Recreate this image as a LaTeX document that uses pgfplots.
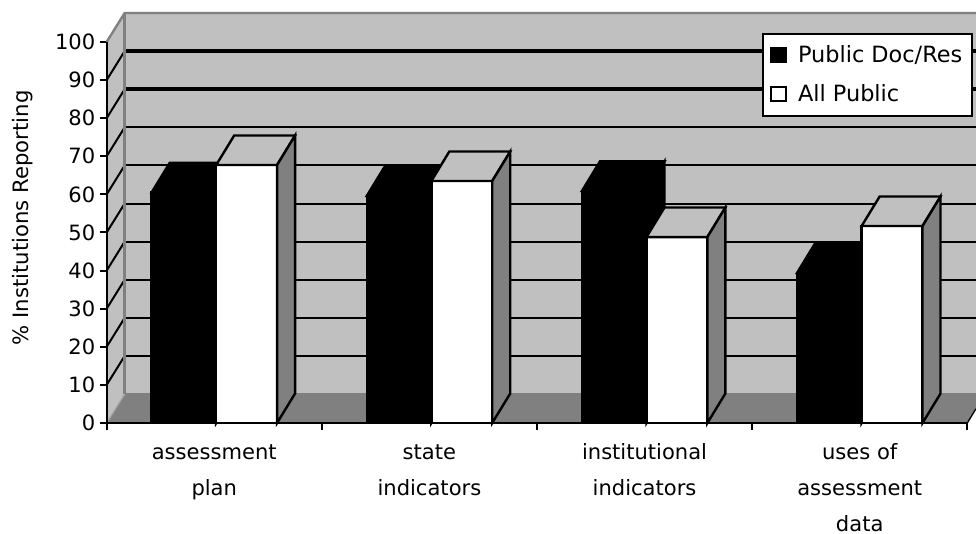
\documentclass[border=0pt]{standalone}
\usepackage{fontspec}
\setmainfont{DejaVu Sans}
\usepackage{pgfplots}
\pgfplotsset{compat=1.18}
\definecolor{wall}{HTML}{C0C0C0}
\definecolor{dgray}{HTML}{808080}
\begin{document}
\begin{tikzpicture}
\path[use as bounding box] (0pt,0pt) rectangle (732pt,399.75pt);
\begin{axis}[
  at={(80pt,82.5pt)}, anchor=origin,
  scale only axis, width=652pt, height=307.5pt,
  xmin=0, xmax=4.0405, ymin=0, ymax=107.6,
  clip=false,
  axis x line*=bottom, axis y line*=left,
  axis line style={draw=none},
  ytick={0,10,...,100},
  xtick={0,1,2,3,4},
  xticklabels={},
  extra x ticks={0.5,1.5,2.5,3.5},
  extra x tick labels={\strut assessment\\plan,\strut state\\indicators,\strut institutional\\indicators,\strut uses of\\assessment\\data},
  extra x tick style={major tick length=0pt,tick style={draw=none},
     xticklabel style={align=center,font=\fontsize{15.8}{27.2}\selectfont,yshift=-4.6pt}},
  x tick style={draw=black,line width=1.5pt},
  y tick style={draw=black,line width=1.5pt},
  tick align=outside, major tick length=5pt,
  yticklabel style={font=\fontsize{15.8}{18}\selectfont},
  /pgf/number format/assume math mode=true,
  ylabel={\% Institutions Reporting},
  ylabel style={font=\fontsize{15.9}{18}\selectfont,yshift=10pt},
  legend style={at={(axis cs:3.046,102.4)},anchor=north west,draw=black,line width=1.7pt,fill=white,
     font=\fontsize{16.8}{19}\selectfont,inner xsep=5.5pt,inner ysep=7pt,row sep=11pt},
  legend cell align=left,
]
% walls and floor
\addplot[fill=wall,draw=none,forget plot] coordinates {(0.0837,7.6)(4.0405,7.6)(4.0405,107.6)(0.0837,107.6)} -- cycle;
\addplot[fill=wall,draw=none,forget plot] coordinates {(0,0)(0.0837,7.6)(0.0837,107.6)(0,100)} -- cycle;
\addplot[fill=dgray,draw=none,forget plot] coordinates {(0,0)(4,0)(4.0405,3.76)(4.0405,7.6)(0.0837,7.6)} -- cycle;
% back grid
\foreach \v/\w in {17.6/1.5pt,27.6/1.5pt,37.6/1.5pt,47.6/1.5pt,57.6/1.5pt,67.6/1.5pt,77.6/1.5pt,87.6/2.6pt,97.6/2.6pt}{
  \edef\tmp{\noexpand\addplot[black,line width=\w,forget plot] coordinates {(0.0837,\v)(4.0405,\v)};}\tmp
}
% side wall grid
\foreach \v/\t in {10/17.6,20/27.6,30/37.6,40/47.6,50/57.6,60/67.6,70/77.6,80/87.6,90/97.6}{
  \edef\tmp{\noexpand\addplot[black,line width=1.5pt,forget plot] coordinates {(0,\v)(0.0837,\t)};}\tmp
}
% wall edges
\addplot[dgray,line width=1.8pt,forget plot] coordinates {(0,100)(0.0837,107.6)(4.0405,107.6)};
\addplot[dgray,line width=1.8pt,forget plot] coordinates {(0.0837,7.6)(0.0837,107.6)};
\addplot[dgray,line width=1pt,forget plot] coordinates {(0.0837,7.6)(4.0405,7.6)};
\addplot[dgray!70,line width=1pt,forget plot] coordinates {(0,0)(0.0837,7.6)};
\addplot[black,line width=1pt,forget plot] coordinates {(4,0)(4.0405,3.76)};
% axis lines
\addplot[black,line width=1.6pt,forget plot] coordinates {(0,0)(0,100)};
% Public Doc/Res
\addplot[ybar,bar width=48.4pt,bar shift=0pt,fill=black,draw=black,line width=1.8pt,
  legend image code/.code={\draw[fill=black,draw=black,line width=1.5pt] (0pt,-5pt) rectangle (11pt,5.5pt);\path (17pt,0pt);}]
  coordinates {(0.359,60.5)(1.359,59.6)(2.359,60.9)(3.359,39.4)};
\addlegendentry{Public Doc/Res}
\addplot[fill=black,draw=black,line width=1.8pt,forget plot] coordinates {(0.209,60.5)(0.509,60.5)(0.5927,68.25)(0.2927,68.25)} -- cycle;
\addplot[fill=black,draw=black,line width=1.8pt,forget plot] coordinates {(0.509,0)(0.5927,7.75)(0.5927,68.25)(0.509,60.5)} -- cycle;
\addplot[fill=black,draw=black,line width=1.8pt,forget plot] coordinates {(1.209,59.6)(1.509,59.6)(1.5927,67.35)(1.2927,67.35)} -- cycle;
\addplot[fill=black,draw=black,line width=1.8pt,forget plot] coordinates {(1.509,0)(1.5927,7.75)(1.5927,67.35)(1.509,59.6)} -- cycle;
\addplot[fill=black,draw=black,line width=1.8pt,forget plot] coordinates {(2.209,60.9)(2.509,60.9)(2.5927,68.65)(2.2927,68.65)} -- cycle;
\addplot[fill=black,draw=black,line width=1.8pt,forget plot] coordinates {(2.509,0)(2.5927,7.75)(2.5927,68.65)(2.509,60.9)} -- cycle;
\addplot[fill=black,draw=black,line width=1.8pt,forget plot] coordinates {(3.209,39.4)(3.509,39.4)(3.5927,47.15)(3.2927,47.15)} -- cycle;
\addplot[fill=black,draw=black,line width=1.8pt,forget plot] coordinates {(3.509,0)(3.5927,7.75)(3.5927,47.15)(3.509,39.4)} -- cycle;
% All Public
\addplot[ybar,bar width=45.7pt,bar shift=0pt,fill=white,draw=black,line width=1.8pt,
  legend image code/.code={\draw[fill=white,draw=black,line width=1.5pt] (0pt,-5pt) rectangle (11pt,5.5pt);\path (17pt,0pt);}]
  coordinates {(0.6505,67.7)(1.6505,63.5)(2.6505,48.8)(3.6505,51.7)};
\addlegendentry{All Public}
\addplot[fill=wall,draw=black,line width=1.8pt,forget plot] coordinates {(0.509,67.7)(0.792,67.7)(0.8757,75.45)(0.5927,75.45)} -- cycle;
\addplot[fill=dgray,draw=black,line width=1.8pt,forget plot] coordinates {(0.792,0)(0.8757,7.75)(0.8757,75.45)(0.792,67.7)} -- cycle;
\addplot[fill=wall,draw=black,line width=1.8pt,forget plot] coordinates {(1.509,63.5)(1.792,63.5)(1.8757,71.25)(1.5927,71.25)} -- cycle;
\addplot[fill=dgray,draw=black,line width=1.8pt,forget plot] coordinates {(1.792,0)(1.8757,7.75)(1.8757,71.25)(1.792,63.5)} -- cycle;
\addplot[fill=wall,draw=black,line width=1.8pt,forget plot] coordinates {(2.509,48.8)(2.792,48.8)(2.8757,56.55)(2.5927,56.55)} -- cycle;
\addplot[fill=dgray,draw=black,line width=1.8pt,forget plot] coordinates {(2.792,0)(2.8757,7.75)(2.8757,56.55)(2.792,48.8)} -- cycle;
\addplot[fill=wall,draw=black,line width=1.8pt,forget plot] coordinates {(3.509,51.7)(3.792,51.7)(3.8757,59.45)(3.5927,59.45)} -- cycle;
\addplot[fill=dgray,draw=black,line width=1.8pt,forget plot] coordinates {(3.792,0)(3.8757,7.75)(3.8757,59.45)(3.792,51.7)} -- cycle;
% base axis on top
\addplot[black,line width=1.8pt,forget plot] coordinates {(0,0)(4,0)};
\end{axis}
\end{tikzpicture}
\end{document}
